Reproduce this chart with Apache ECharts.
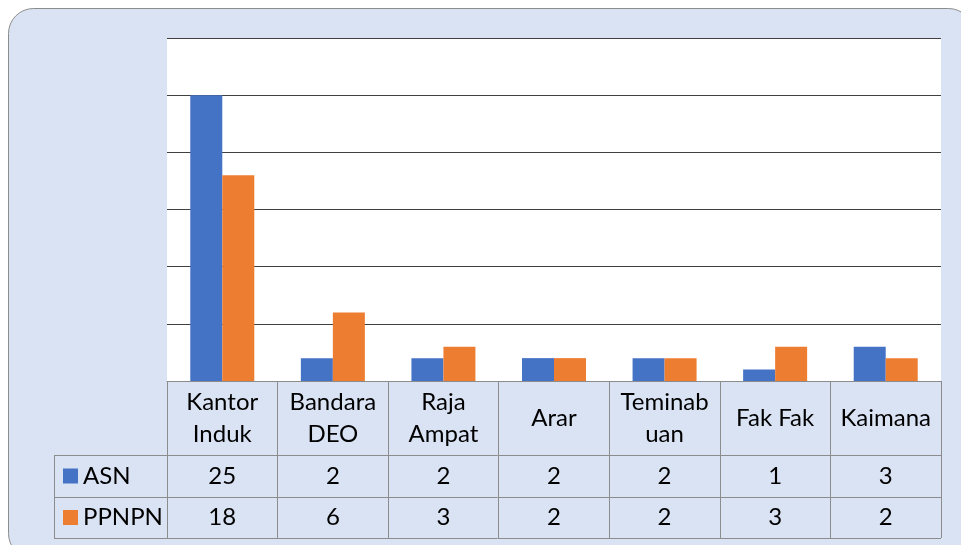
<!DOCTYPE html>
<html>
<head>
<meta charset="utf-8">
<script src="https://cdn.jsdelivr.net/npm/echarts@6/dist/echarts.min.js"></script>
<style>
  html, body { margin: 0; padding: 0; background: #fff; }
  #chart { width: 961px; height: 545px; }
</style>
</head>
<body>
<div id="chart"></div>
<script>
// data
const categories = ['Kantor\nInduk', 'Bandara\nDEO', 'Raja\nAmpat', 'Arar', 'Teminab\nuan', 'Fak Fak', 'Kaimana']
const seriesNames = ['ASN', 'PPNPN']
const asn = [25, 2, 2, 2, 2, 1, 3]
const ppnpn = [18, 6, 3, 2, 2, 3, 2]
const colors = ['#4472c4', '#ed7d31']

const FONT = 'Lato, "Noto Sans", sans-serif'
const FONT_SIZE = 24
const LINE = '#8c8c8c'

// table layout (px)
const plotLeft = 167, plotRight = 941, axisY = 381
const rowTops = [455, 497, 538]
const tableLeft = 54

const chart = echarts.init(document.getElementById('chart'))

function valueAxis(values, offset) {
  return {
    type: 'category',
    position: 'bottom',
    offset: offset,
    data: values.map(String),
    axisLine: { show: false },
    axisTick: { show: false },
    axisLabel: {
      interval: 0, margin: 0, verticalAlign: 'middle',
      fontFamily: FONT, fontSize: FONT_SIZE, color: '#000'
    }
  }
}

const tableGraphics = []
rowTops.forEach(y => {
  tableGraphics.push({
    type: 'line', silent: true,
    shape: { x1: tableLeft, y1: y + 0.5, x2: plotRight, y2: y + 0.5 },
    style: { stroke: LINE, lineWidth: 1 }
  })
})
tableGraphics.push({
  type: 'line', silent: true,
  shape: { x1: tableLeft + 0.5, y1: rowTops[0], x2: tableLeft + 0.5, y2: rowTops[2] },
  style: { stroke: LINE, lineWidth: 1 }
})
seriesNames.forEach((name, i) => {
  const cy = (rowTops[i] + rowTops[i + 1]) / 2
  tableGraphics.push({
    type: 'rect', silent: true,
    shape: { x: 63, y: cy - 7.5, width: 15, height: 15 },
    style: { fill: colors[i] }
  })
  tableGraphics.push({
    type: 'text', silent: true,
    x: 83, y: cy,
    style: { text: name, fontFamily: FONT, fontSize: FONT_SIZE, fill: '#000', verticalAlign: 'middle' }
  })
})

chart.setOption({
  animation: false,
  backgroundColor: 'transparent',
  graphic: [
    {
      type: 'rect', silent: true, z: -10,
      shape: { x: 8.5, y: 8.5, width: 965, height: 550, r: 25 },
      style: { fill: '#dae3f3', stroke: '#8c8c8c', lineWidth: 1 }
    }
  ].concat(tableGraphics),
  grid: {
    left: plotLeft, right: 961 - plotRight, top: 38, bottom: 545 - axisY,
    show: true, backgroundColor: '#fff', borderWidth: 0
  },
  xAxis: [
    {
      type: 'category',
      data: categories,
      axisLine: { show: true, lineStyle: { color: LINE, width: 1 } },
      axisTick: { show: true, length: rowTops[2] - axisY, lineStyle: { color: LINE } },
      axisLabel: {
        interval: 0, margin: 37, verticalAlign: 'middle', lineHeight: 32,
        fontFamily: FONT, fontSize: FONT_SIZE, color: '#000'
      }
    },
    valueAxis(asn, (rowTops[0] + rowTops[1]) / 2 - axisY),
    valueAxis(ppnpn, (rowTops[1] + rowTops[2]) / 2 - axisY)
  ],
  yAxis: {
    type: 'value', min: 0, max: 30, interval: 5,
    axisLabel: { show: false },
    axisLine: { show: false },
    axisTick: { show: false },
    splitLine: { lineStyle: { color: '#404040', width: 1 } }
  },
  series: [
    { name: seriesNames[0], type: 'bar', data: asn, barWidth: 32, barGap: '0%', itemStyle: { color: colors[0] } },
    { name: seriesNames[1], type: 'bar', data: ppnpn, barWidth: 32, barGap: '0%', itemStyle: { color: colors[1] } }
  ]
})
</script>
</body>
</html>
